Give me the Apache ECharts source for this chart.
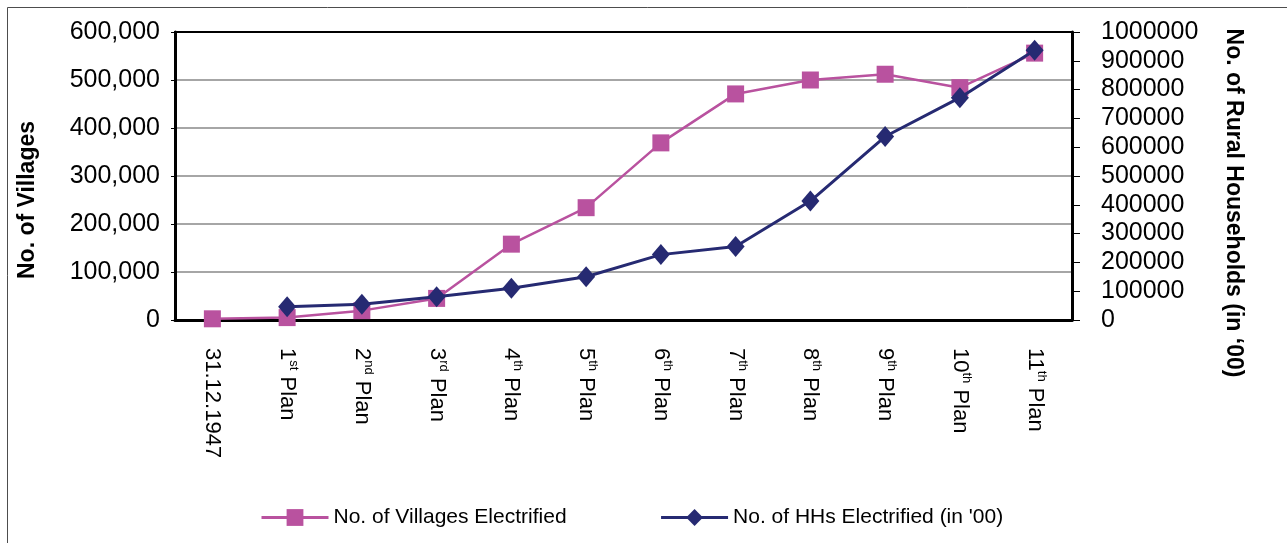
<!DOCTYPE html>
<html>
<head>
<meta charset="utf-8">
<script src="https://cdn.jsdelivr.net/npm/echarts@6/dist/echarts.min.js"></script>
<style>
  html, body { margin: 0; padding: 0; background: #fff; }
  #chart { width: 1287px; height: 543px; }
</style>
</head>
<body>
<div id="chart"></div>
<script>
// Plan periods along the x axis
const categories = ['31.12.1947', '1st Plan', '2nd Plan', '3rd Plan', '4th Plan', '5th Plan',
  '6th Plan', '7th Plan', '8th Plan', '9th Plan', '10th Plan', '11th Plan'];

// Cumulative villages electrified (left axis)
const villagesElectrified = [2500, 5000, 19500, 45000, 158000, 234000, 369000, 471000, 500000, 512000, 484000, 556000];

// Cumulative rural households electrified, in hundreds (right axis)
const householdsElectrified = [null, 46000, 55000, 81000, 110000, 150000, 227000, 255000, 413000, 637000, 772000, 937000];

// Axis tick ranges
const villageTicks = { min: 0, max: 600000, step: 100000 };
const householdTicks = { min: 0, max: 1000000, step: 100000 };

const seriesNames = ['No. of Villages Electrified', "No. of HHs Electrified (in '00)"];
const axisNames = ['No. of Villages', 'No. of Rural Households (in \u201800)'];

const FONT = "'Liberation Sans', Arial, Helvetica, sans-serif";
const PINK = '#b9529f';
const NAVY = '#262a72';

const chart = echarts.init(document.getElementById('chart'), null, { renderer: 'canvas' });

function planLabel(v) {
  const m = v.match(/^(\d+)(st|nd|rd|th) (.+)$/);
  return m ? `{n|${m[1]}}{s|${m[2]}}{n| ${m[3]}}` : `{n|${v}}`;
}

chart.setOption({
  backgroundColor: '#fff',
  animation: false,
  textStyle: { fontFamily: FONT, color: '#000' },
  graphic: [{
    type: 'rect',
    z: -10,
    shape: { x: 7.5, y: 7.5, width: 1300, height: 560 },
    style: { fill: 'none', stroke: '#4d4d4d', lineWidth: 1 }
  }],
  grid: {
    left: 175, right: 215, top: 32, bottom: 223,
    show: true, borderColor: '#000', borderWidth: 2, backgroundColor: 'transparent'
  },
  legend: {
    left: 255, top: 502,
    itemWidth: 67, itemHeight: 21, itemGap: 93,
    lineStyle: { width: 3 },
    textStyle: { fontFamily: FONT, fontSize: 21, color: '#000' },
    data: seriesNames
  },
  xAxis: {
    type: 'category',
    data: categories,
    boundaryGap: true,
    axisLine: { lineStyle: { color: '#000', width: 3 } },
    axisTick: { show: false },
    axisLabel: {
      interval: 0,
      rotate: -90,
      margin: 28,
      color: '#000',
      formatter: planLabel,
      rich: {
        n: { fontFamily: FONT, fontSize: 22, lineHeight: 26, color: '#000' },
        s: { fontFamily: FONT, fontSize: 13, lineHeight: 15, verticalAlign: 'top', color: '#000' }
      }
    }
  },
  yAxis: [{
    type: 'value',
    min: villageTicks.min, max: villageTicks.max, interval: villageTicks.step,
    name: axisNames[0],
    nameLocation: 'middle',
    nameGap: 136,
    nameTextStyle: { fontFamily: FONT, fontSize: 23, fontWeight: 'bold', color: '#000', padding: [0, 48, 0, 0] },
    axisLine: { show: true, lineStyle: { color: '#000', width: 3 } },
    axisTick: { show: true, length: 4, lineStyle: { color: '#000' } },
    axisLabel: {
      fontSize: 25, color: '#000', margin: 15,
      formatter: v => v.toLocaleString('en-US')
    },
    splitLine: { show: true, showMinLine: false, showMaxLine: false, lineStyle: { color: '#a6a6a6', width: 2 } }
  }, {
    type: 'value',
    position: 'right',
    min: householdTicks.min, max: householdTicks.max, interval: householdTicks.step,
    name: axisNames[1],
    nameLocation: 'middle',
    nameRotate: -90,
    nameGap: 150,
    nameTextStyle: { fontFamily: FONT, fontSize: 23, fontWeight: 'bold', color: '#000', padding: [0, 0, 0, 54] },
    axisLine: { show: true, lineStyle: { color: '#000', width: 3 } },
    axisTick: { show: true, length: 8, lineStyle: { color: '#000' } },
    axisLabel: { fontSize: 25, color: '#000', margin: 29, formatter: v => String(v) },
    splitLine: { show: false }
  }],
  series: [{
    name: seriesNames[0],
    type: 'line',
    yAxisIndex: 0,
    data: villagesElectrified,
    symbol: 'rect',
    symbolSize: 17,
    itemStyle: { color: PINK },
    lineStyle: { color: PINK, width: 2.5 },
    z: 2
  }, {
    name: seriesNames[1],
    type: 'line',
    yAxisIndex: 1,
    data: householdsElectrified,
    symbol: 'diamond',
    symbolSize: [18, 21],
    itemStyle: { color: NAVY },
    lineStyle: { color: NAVY, width: 3 },
    z: 3
  }]
});
</script>
</body>
</html>
